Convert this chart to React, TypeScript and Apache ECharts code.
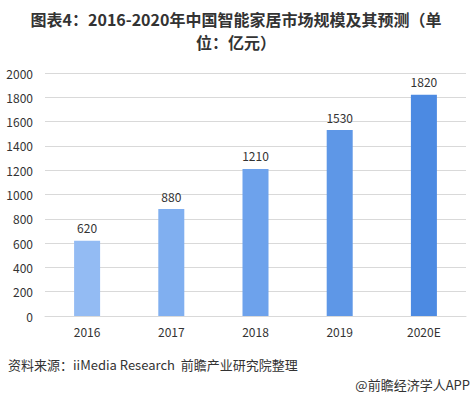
import React, { useEffect, useRef } from "react";
import * as echarts from "echarts";

const titleLine1 = "图表4：2016-2020年中国智能家居市场规模及其预测（单";
const titleLine2 = "位：亿元）";
const categories = ["2016", "2017", "2018", "2019", "2020E"];
const values = [620, 880, 1210, 1530, 1820];
const barColors = ["#93BBF3", "#80AFF0", "#6DA2EC", "#5E97E7", "#4C8AE2"];
const yTicks = { min: 0, max: 2000, interval: 200 };
const sourceText = "资料来源：iiMedia Research  前瞻产业研究院整理";
const brandText = "@前瞻经济学人APP";

const FONT = "'Noto Sans CJK SC', 'Noto Sans', sans-serif";

export default function App() {
  const ref = useRef<HTMLDivElement>(null);
  useEffect(() => {
    document.body.style.margin = "0";
    const chart = echarts.init(ref.current!, null, { renderer: "svg" });
    chart.setOption({
      animation: false,
      backgroundColor: "#ffffff",
      textStyle: { fontFamily: FONT },
      grid: { left: 45, right: 6, top: 73, bottom: 83 },
      graphic: [
        {
          type: "text",
          x: 236,
          y: 11,
          style: {
            text: titleLine1,
            font: `bold 16px ${FONT}`,
            fill: "#333333",
            align: "center",
          },
        },
        {
          type: "text",
          x: 236,
          y: 34,
          style: {
            text: titleLine2,
            font: `bold 16px ${FONT}`,
            fill: "#333333",
            align: "center",
          },
        },
        {
          type: "text",
          left: 8,
          top: 358,
          style: { text: sourceText, font: `13px ${FONT}`, fill: "#333333" },
        },
        {
          type: "text",
          right: 2,
          top: 378,
          style: { text: brandText, font: `13px ${FONT}`, fill: "#333333" },
        },
      ],
      xAxis: {
        type: "category",
        data: categories,
        axisLine: { show: true, lineStyle: { color: "#D9D9D9" } },
        axisTick: { show: false },
        axisLabel: { color: "#333333", fontSize: 12, margin: 9, fontFamily: FONT },
      },
      yAxis: {
        type: "value",
        min: yTicks.min,
        max: yTicks.max,
        interval: yTicks.interval,
        axisLine: { show: false },
        axisTick: { show: false },
        axisLabel: {
          color: "#333333",
          fontSize: 12,
          margin: 12,
          fontFamily: FONT,
          formatter: (v: number) => String(v),
        },
        splitLine: { lineStyle: { color: "#D9D9D9" } },
      },
      series: [
        {
          type: "bar",
          barWidth: 26,
          data: values.map((v, i) => ({ value: v, itemStyle: { color: barColors[i] } })),
          label: {
            show: true,
            position: "top",
            distance: 7,
            color: "#333333",
            fontSize: 12,
            fontFamily: FONT,
          },
        },
      ],
    });
    return () => chart.dispose();
  }, []);
  return <div ref={ref} style={{ width: 472, height: 399 }} />;
}
